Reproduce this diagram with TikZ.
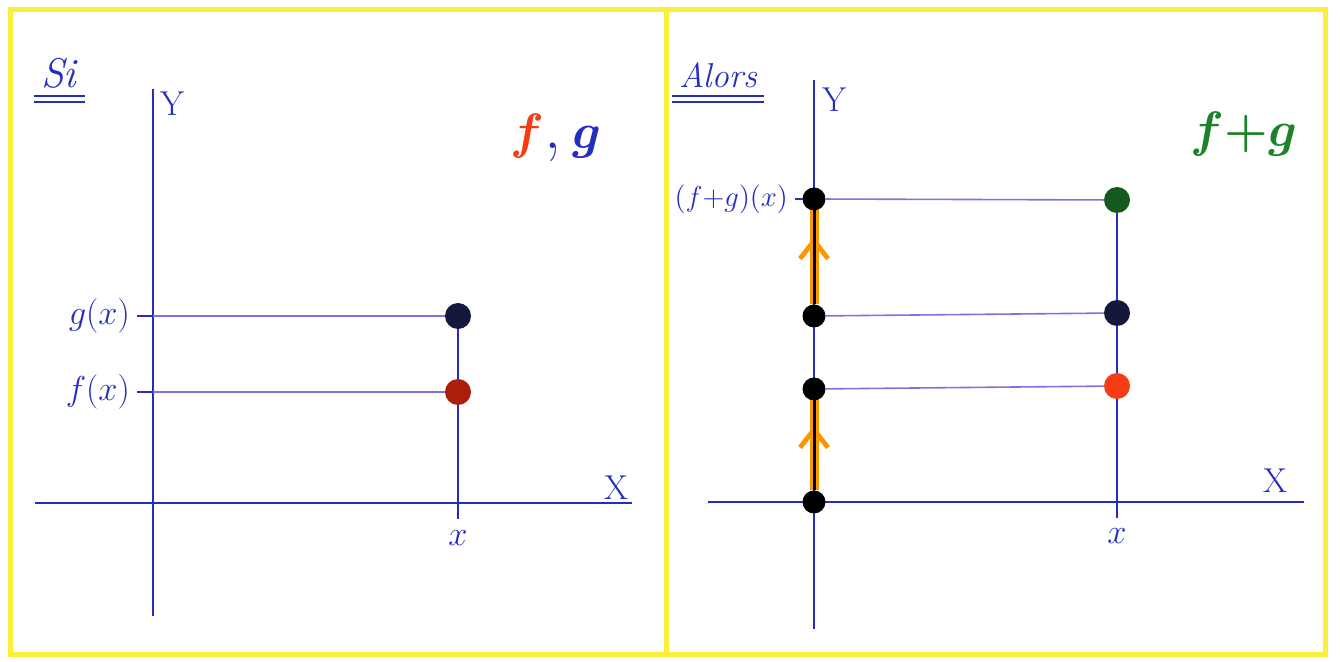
\documentclass[tikz,border=0pt]{standalone}
\usetikzlibrary{arrows.meta, decorations.markings}
\definecolor{penblue}{RGB}{35,45,190}
\definecolor{guideblue}{RGB}{130,110,230}
\definecolor{frameyellow}{RGB}{250,240,60}
\definecolor{penred}{RGB}{245,60,20}
\definecolor{darkred}{RGB}{170,30,10}
\definecolor{pengreen}{RGB}{30,130,40}
\definecolor{dotgreen}{RGB}{20,90,30}
\definecolor{pennavy}{RGB}{20,25,60}
\definecolor{penorange}{RGB}{250,150,0}

\begin{document}
\begin{tikzpicture}[x=0.5pt, y=-0.5pt,
        every node/.style={font=\LARGE, text=penblue},
        axis/.style={penblue, line width=0.9pt},
        guide/.style={guideblue, line width=0.8pt},
        dot/.style={circle, fill=#1, inner sep=0pt, outer sep=0pt, minimum size=13pt},
        axdot/.style={circle, fill=black, inner sep=0pt, outer sep=0pt, minimum size=11.5pt},
        sumarr/.style={draw=penorange, line width=4.5pt,
            postaction={decorate, decoration={markings,
                mark=at position 0.72 with {\arrow[penorange, line width=2.4pt]{Straight Barb[length=9pt, width=14pt]}}}},
            postaction={draw=black, line width=1.5pt}},
        title/.style={font=\boldmath\fontsize{34}{40}\selectfont},
        frame/.style={frameyellow, line width=2.5pt}
    ]
    \useasboundingbox (0,0) rectangle (1340,662);
    \draw[frame] (10,10) rectangle (1325,655);
    \draw[frame] (666,10) -- (666,655);

    % left panel: f and g
    \coordinate (yb1) at (153,616);
    \coordinate (yt1) at (153,89);
    \coordinate (xl1) at (35,503);
    \coordinate (xr1) at (632,503);
    \draw[axis] (yb1) -- (yt1);
    \draw[axis] (xl1) -- (xr1);
    \node (Y1) at (172,104) {Y};
    \node (X1) at (616,488) {X};

    \coordinate (gy1) at (153,316);
    \coordinate (fy1) at (153,392);
    \coordinate (xt1) at (458,519);
    \node[dot=pennavy] (g1) at (458,316) {};
    \node[dot=darkred] (f1) at (458,392) {};
    \draw[guide] (gy1) -- (g1);
    \draw[guide] (fy1) -- (f1);
    \draw[axis] (g1) -- (f1) -- (xt1);

    \node[anchor=east] (glab1) at (137,316) {$g(x)$};
    \node[anchor=east] (flab1) at (137,392) {$f(x)$};
    \draw[axis] (glab1) -- (gy1);
    \draw[axis] (flab1) -- (fy1);
    \node (xlab1) at (458,538) {$x$};

    \node[anchor=base west, font=\huge] (si) at (34,88) {\textit{Si}};
    \draw[penblue, line width=0.8pt] ([yshift=-4pt]si.base west) -- ([yshift=-4pt]si.base east);
    \draw[penblue, line width=0.8pt] ([yshift=-7pt]si.base west) -- ([yshift=-7pt]si.base east);
    \node[title] (fgtitle) at (556,138) {\color{penred}$f$\color{penblue},\,$g$};

    % right panel: f+g
    \coordinate (yb2) at (814,629);
    \coordinate (yt2) at (814,80);
    \coordinate (xl2) at (708,502);
    \coordinate (xr2) at (1304,502);
    \draw[axis] (yb2) -- (yt2);
    \draw[axis] (xl2) -- (xr2);
    \node (Y2) at (834,100) {Y};
    \node (X2) at (1275,481) {X};

    \node[axdot] (s0) at (814,502) {};
    \node[axdot] (s1) at (814,389) {};
    \node[axdot] (s2) at (814,316) {};
    \node[axdot] (s3) at (814,199) {};
    \node[dot=dotgreen] (sg) at (1117,200) {};
    \node[dot=pennavy] (gg) at (1117,313) {};
    \node[dot=penred] (fg) at (1117,386) {};
    \coordinate (xt2) at (1117,518);

    \draw[guide] (s3) -- (sg);
    \draw[guide] (s2) -- (gg);
    \draw[guide] (s1) -- (fg);
    \draw[axis] (sg) -- (gg) -- (fg) -- (xt2);
    \draw[sumarr] (s0) -- (s1);
    \draw[sumarr] (s2) -- (s3);

    \node[anchor=east, font=\Large] (sumlab) at (795,199) {$(f{+}g)(x)$};
    \draw[axis] (sumlab) -- (s3);
    \node (xlab2) at (1117,536) {$x$};

    \node[anchor=base west, font=\LARGE] (alors) at (672,88) {\textit{Alors}};
    \draw[penblue, line width=0.8pt] ([yshift=-4pt]alors.base west) -- ([yshift=-4pt]alors.base east);
    \draw[penblue, line width=0.8pt] ([yshift=-7pt]alors.base west) -- ([yshift=-7pt]alors.base east);
    \node[title, text=pengreen] (sumtitle) at (1244,134) {$f{+}g$};
\end{tikzpicture}
\end{document}
